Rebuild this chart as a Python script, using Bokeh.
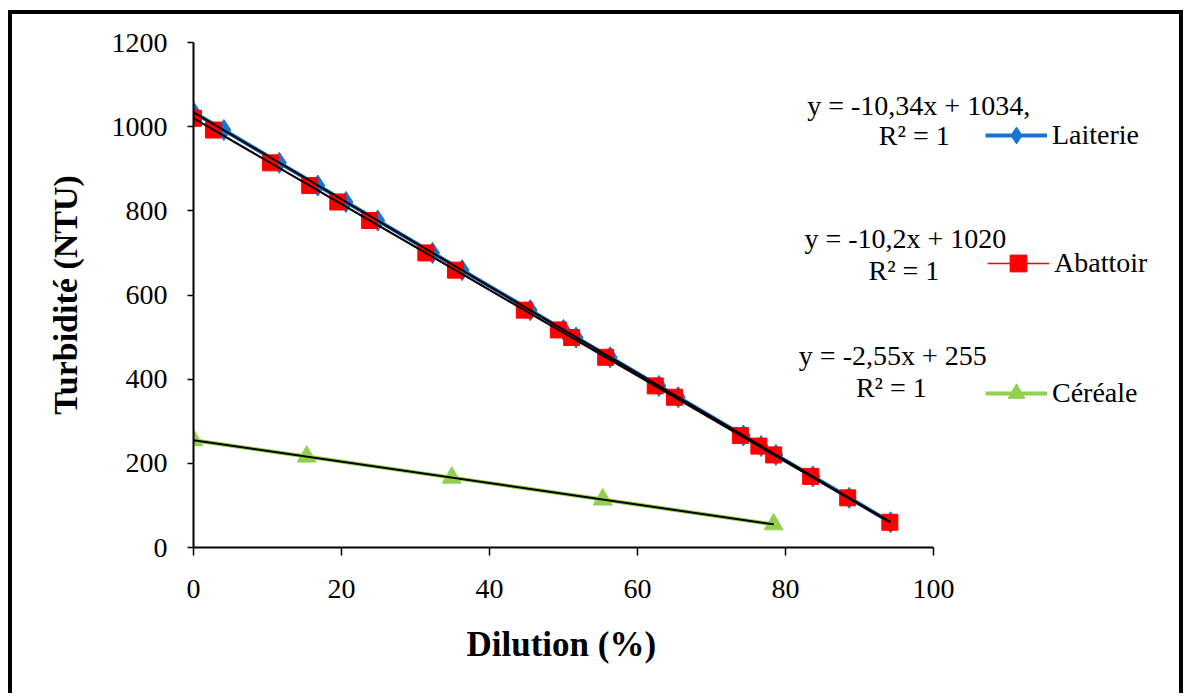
import numpy as np
from bokeh.plotting import figure
from bokeh.models import Range1d, Legend, LegendItem, Label, FixedTicker, Title
from bokeh.embed import file_html
from bokeh.resources import INLINE

# ---------------- data ----------------
series_names = ["Laiterie", "Abattoir", "Céréale"]

dilution_laiterie = [0, 4.1, 11.6, 16.8, 20.6, 24.9, 32.3, 36.3, 45.5, 50.0,
                     51.7, 56.3, 62.9, 65.5, 74.3, 76.7, 78.7, 83.7, 88.6, 94.2]
turbidite_laiterie = [1034, 992, 914, 860, 821, 777, 700, 659, 564, 517,
                      499, 452, 384, 357, 266, 241, 220, 169, 118, 60]

dilution_abattoir = [0, 2.7, 10.4, 15.7, 19.5, 23.8, 31.4, 35.4, 44.7, 49.3,
                     51.1, 55.7, 62.4, 65.0, 73.9, 76.4, 78.4, 83.4, 88.4, 94.1]
turbidite_abattoir = [1020, 992, 914, 860, 821, 777, 700, 659, 564, 517,
                      499, 452, 384, 357, 266, 241, 220, 169, 118, 60]

dilution_cereale = [0, 15.3, 34.9, 55.3, 78.4]
turbidite_cereale = [255, 216, 166, 114, 55]

equations = ["y = -10,34x + 1034,", "y = -10,2x + 1020", "y = -2,55x + 255"]
r2_labels = ["R² = 1", "R² = 1", "R² = 1"]

x_ticks = [0, 20, 40, 60, 80, 100]
y_ticks = [0, 200, 400, 600, 800, 1000, 1200]

FONT = "Liberation Serif"
BLUE = "#1874CD"
RED = "#FF0000"
GREEN = "#92D050"

# canvas sits inside a black frame (left 8..12, top 10..14, right 1187..1191)
X_PX = 7.4        # pixels per x unit
frame_left_abs, frame_top_abs, frame_bottom_abs, canvas_right_abs = 193, 42, 547, 1187
x_end = (canvas_right_abs - frame_left_abs) / X_PX

p = figure(width=1175, height=683, output_backend="svg", toolbar_location=None,
           x_range=Range1d(0, x_end), y_range=Range1d(0, 1200),
           min_border_left=frame_left_abs - 12, min_border_right=0,
           min_border_top=frame_top_abs - 14, min_border_bottom=697 - frame_bottom_abs,
           margin=(10, 0, 0, 8))
p.styles = {"border-left": "4px solid black", "border-top": "4px solid black",
            "border-right": "4px solid black"}
p.outline_line_color = None
p.background_fill_color = "white"
p.border_fill_color = "white"
p.xgrid.visible = False
p.ygrid.visible = False

for ax, ticks in ((p.xaxis, x_ticks), (p.yaxis, y_ticks)):
    ax.ticker = FixedTicker(ticks=ticks)
    ax.minor_tick_line_color = None
    ax.major_tick_in = 0
    ax.axis_line_color = "black"
    ax.axis_line_width = 2
    ax.major_tick_line_color = "black"
    ax.major_tick_line_width = 1.5
    ax.major_label_text_font = FONT
    ax.major_label_text_font_size = "28px"
    ax.major_label_text_color = "black"
    ax.axis_label_text_font = FONT
    ax.axis_label_text_font_style = "bold"
    ax.axis_label_text_color = "black"

p.xaxis.bounds = (0, 100)
p.xaxis.major_tick_out = 8
p.yaxis.major_tick_out = 6
p.xaxis.major_label_standoff = 24
p.yaxis.major_label_standoff = 20
p.yaxis.axis_label = "Turbidité (NTU)"
p.yaxis.axis_label_text_font_size = "34px"
p.yaxis.axis_label_standoff = 25

# x-axis title centred under the 0..100 axis span
p.add_layout(Title(text="Dilution (%)", align="left", offset=273, standoff=44,
                   text_font=FONT, text_font_size="35px", text_font_style="bold",
                   text_color="black"), "below")

# ---------------- series ----------------
l_line = p.line(dilution_laiterie, turbidite_laiterie, line_color=BLUE, line_width=4)
l_mark = p.scatter(dilution_laiterie, turbidite_laiterie, marker="diamond", size=21,
                   fill_color=BLUE, line_color=BLUE)
a_line = p.line(dilution_abattoir, turbidite_abattoir, line_color=RED, line_width=1.5)
a_mark = p.scatter(dilution_abattoir, turbidite_abattoir, marker="square", size=16,
                   fill_color=RED, line_color=RED)
c_line = p.line(dilution_cereale, turbidite_cereale, line_color=GREEN, line_width=4)
c_mark = p.scatter(dilution_cereale, turbidite_cereale, marker="triangle", size=19,
                   fill_color=GREEN, line_color=GREEN)

# linear trendlines (fitted from the data)
for xs, ys in ((dilution_laiterie, turbidite_laiterie),
               (dilution_abattoir, turbidite_abattoir),
               (dilution_cereale, turbidite_cereale)):
    slope, icpt = np.polyfit(xs, ys, 1)
    tx = np.array([min(xs), max(xs)])
    p.line(tx, slope * tx + icpt, line_color="black", line_width=2)

# ---------------- equations ----------------
eq_pos = [(98.0, 1050), (96.2, 734), (94.5, 456)]
r2_pos = [(97.4, 979), (96.0, 658), (94.3, 380)]
for txt, (x, y) in zip(equations + r2_labels, eq_pos + r2_pos):
    p.add_layout(Label(x=x, y=y, text=txt, text_font=FONT, text_font_size="28px",
                       text_align="center", text_baseline="middle", text_color="black"))

# ---------------- legends ----------------
leg_specs = [(series_names[0], [l_line, l_mark], (792, 391)),
             (series_names[1], [a_line, a_mark], (794, 263)),
             (series_names[2], [c_line, c_mark], (792, 133))]
for name, rends, loc in leg_specs:
    lg = Legend(items=[LegendItem(label=name, renderers=rends)], location=loc,
                glyph_width=62, glyph_height=42, label_height=42, label_standoff=5,
                padding=0, margin=0, spacing=0, border_line_color=None,
                background_fill_alpha=0, label_text_font=FONT,
                label_text_font_size="28px", label_text_color="black")
    p.add_layout(lg)

open("out.html", "w").write(file_html(p, INLINE))
